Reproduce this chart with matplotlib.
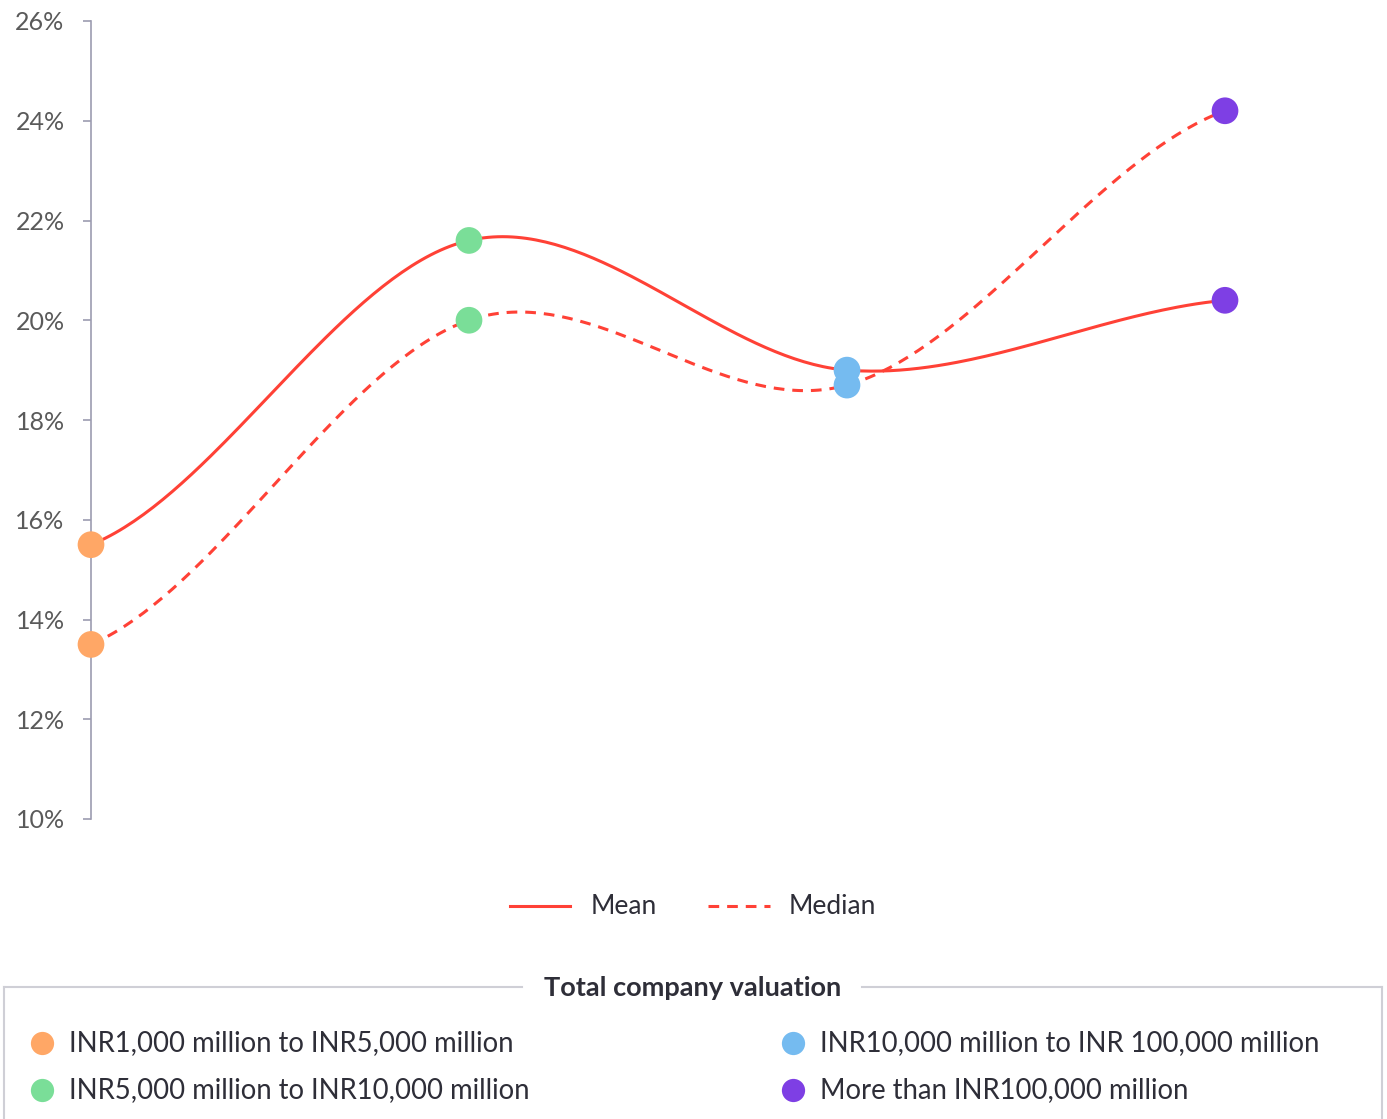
import numpy as np
import matplotlib
matplotlib.use('Agg')
import matplotlib.pyplot as plt

# Total company valuation bands and the mean / median values (%)
categories = ['INR1,000 million to INR5,000 million',
              'INR5,000 million to INR10,000 million',
              'INR10,000 million to INR 100,000 million',
              'More than INR100,000 million']
mean_pct = [15.5, 21.6, 19.0, 20.4]
median_pct = [13.5, 20.0, 18.7, 24.2]
cat_colors = ['#FFA766', '#7ADE98', '#75BBF0', '#7E3FE4']
y_ticks = [10, 12, 14, 16, 18, 20, 22, 24, 26]
series_names = ['Mean', 'Median']

LINE_RED = '#FF4136'
TEXT_DARK = '#2E2E38'
W, H = 1387, 1119

plt.rcParams['font.family'] = ['Lato', 'DejaVu Sans']


def catmull_rom(y, n=80):
    # uniform Catmull-Rom spline through the points (x = 0..len-1)
    y = np.asarray(y, float)
    m = np.empty_like(y)
    m[1:-1] = (y[2:] - y[:-2]) / 2
    m[0] = (y[1] - y[0]) / 2
    m[-1] = (y[-1] - y[-2]) / 2
    t = np.linspace(0, 1, n)
    h00 = 2 * t**3 - 3 * t**2 + 1
    h10 = t**3 - 2 * t**2 + t
    h01 = -2 * t**3 + 3 * t**2
    h11 = t**3 - t**2
    xs, ys = [], []
    for i in range(len(y) - 1):
        xs.append(i + t)
        ys.append(h00 * y[i] + h10 * m[i] + h01 * y[i + 1] + h11 * m[i + 1])
    return np.concatenate(xs), np.concatenate(ys)


fig = plt.figure(figsize=(W / 100, H / 100), dpi=100)
ax = fig.add_axes([91 / W, (H - 819) / H, 1209.6 / W, 798 / H])

x = np.arange(len(categories))
dash = (0, (3.5, 2.6))
for vals, ls in [(mean_pct, '-'), (median_pct, dash)]:
    sx, sy = catmull_rom(vals)
    ax.plot(sx, sy, color=LINE_RED, lw=2.2, linestyle=ls, zorder=2,
            clip_on=False, dash_capstyle='butt')
    ax.scatter(x, vals, s=370, c=cat_colors, zorder=3, clip_on=False,
               linewidths=0)

ax.set_xlim(0, 3.2)
ax.set_ylim(10, 26)
ax.set_yticks(y_ticks)
ax.set_yticklabels([f'{v}%' for v in y_ticks])
ax.set_xticks([])
for s in ['top', 'right', 'bottom']:
    ax.spines[s].set_visible(False)
ax.spines['left'].set_color('#9C9CB0')
ax.spines['left'].set_linewidth(1.2)
ax.tick_params(axis='y', direction='out', length=6, width=1.2,
               color='#9C9CB0', labelcolor='#5A5A5A', labelsize=18, pad=13)

# legend / caption area in figure pixel coordinates
lax = fig.add_axes([0, 0, 1, 1])
lax.set_xlim(0, W)
lax.set_ylim(H, 0)
lax.axis('off')

lax.plot([510, 570], [906, 906], color=LINE_RED, lw=2.2)
lax.plot([708, 770], [906, 906], color=LINE_RED, lw=2.2, linestyle=dash,
         dash_capstyle='butt')
lax.text(591, 906, series_names[0], fontsize=19, color=TEXT_DARK, va='center')
lax.text(789, 906, series_names[1], fontsize=19, color=TEXT_DARK, va='center')

box_c = '#CFCFD6'
lax.plot([4, 522], [987, 987], color=box_c, lw=1.5)
lax.plot([862, 1382], [987, 987], color=box_c, lw=1.5)
lax.plot([4, 4], [987, H + 5], color=box_c, lw=1.5)
lax.plot([1382, 1382], [987, H + 5], color=box_c, lw=1.5)
lax.text(693, 988, 'Total company valuation', fontsize=19.5, fontweight='bold',
         color=TEXT_DARK, ha='center', va='center')

item_pos = [(42, 1043), (42, 1090), (793, 1043), (793, 1090)]
for (px, py), label, col in zip(item_pos, categories, cat_colors):
    lax.scatter([px], [py], s=280, color=col, linewidths=0)
    lax.text(px + 27, py, label, fontsize=19.8, color=TEXT_DARK, va='center')

fig.savefig('out.png', dpi=100)
